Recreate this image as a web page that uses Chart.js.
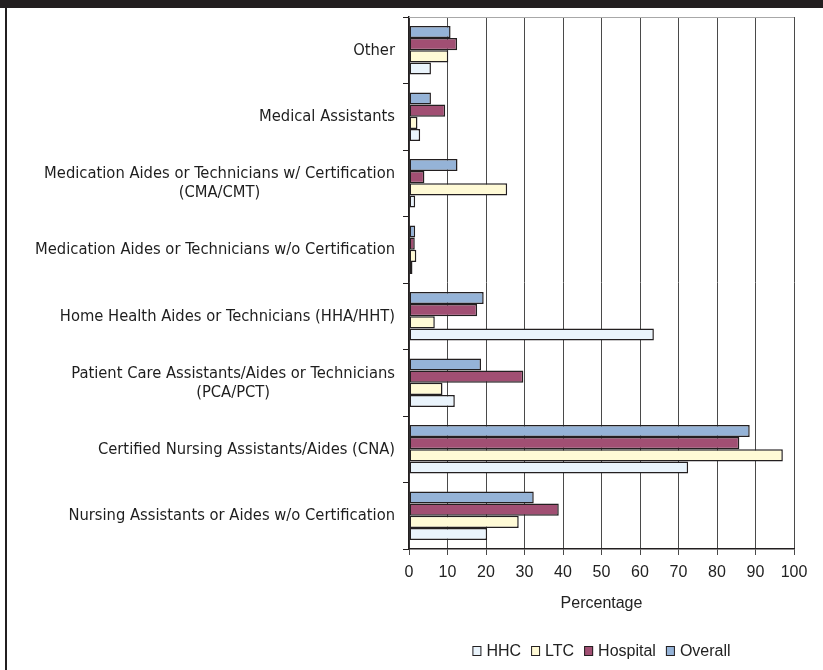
<!DOCTYPE html>
<html>
<head>
<meta charset="utf-8">
<title>Assistive personnel by setting</title>
<script src="https://cdn.jsdelivr.net/npm/chart.js@4.4.0/dist/chart.umd.min.js"></script>
<style>
  html, body { margin: 0; padding: 0; background: #fff; }
</style>
</head>
<body>
<canvas id="chart-staff" width="823" height="670"></canvas>
<script>
// categories, top to bottom
const categories = [
  'Other',
  'Medical Assistants',
  ['Medication Aides or Technicians w/ Certification', '(CMA/CMT)'],
  'Medication Aides or Technicians w/o Certification',
  'Home Health Aides or Technicians (HHA/HHT)',
  ['Patient Care Assistants/Aides or Technicians', '(PCA/PCT)'],
  'Certified Nursing Assistants/Aides (CNA)',
  'Nursing Assistants or Aides w/o Certification'
];

// percentages per setting
const overall  = [10.8, 5.7, 12.6, 1.6, 19.4, 18.7, 88.5, 32.4];
const hospital = [12.5, 9.4, 4.0, 1.5, 17.7, 29.7, 85.8, 38.9];
const ltc      = [10.2, 2.2, 25.5, 1.9, 6.7, 8.7, 97.1, 28.5];
const hhc      = [5.7, 2.9, 1.6, 0.9, 63.6, 11.9, 72.5, 20.3];

const xMin = 0, xMax = 100, xStep = 10;

const INK = '#231f20';
const LABEL_FONT = '16.4px "Liberation Sans Narrow", "DejaVu Sans Condensed", "Arial Narrow", sans-serif';
const BODY_FONT = '"Liberation Sans", Arial, sans-serif';

// black band on top + left rule
const framePlugin = {
  id: 'frame',
  beforeDraw(chart) {
    const { ctx, width, height } = chart;
    ctx.save();
    ctx.fillStyle = '#fff';
    ctx.fillRect(0, 0, width, height);
    ctx.fillStyle = INK;
    ctx.fillRect(0, 0, width, 8);
    ctx.fillRect(5, 8, 2, height - 8);
    ctx.restore();
  },
  beforeDatasetsDraw(chart) {
    // light top edge of the plot
    const { ctx, chartArea } = chart;
    ctx.save();
    ctx.strokeStyle = '#a8a8a8';
    ctx.lineWidth = 1;
    ctx.beginPath();
    ctx.moveTo(chartArea.left, chartArea.top + 0.5);
    ctx.lineTo(chartArea.right, chartArea.top + 0.5);
    ctx.stroke();
    ctx.restore();
  }
};

// category labels: right-aligned blocks, lines centred inside each block
const categoryLabels = {
  id: 'categoryLabels',
  afterDraw(chart) {
    const { ctx } = chart;
    const yScale = chart.scales.y;
    const right = yScale.right - 14;
    const lineH = 19;
    ctx.save();
    ctx.font = LABEL_FONT;
    ctx.fillStyle = '#1e1e1e';
    ctx.textAlign = 'center';
    ctx.textBaseline = 'middle';
    categories.forEach((cat, i) => {
      const lines = Array.isArray(cat) ? cat : [cat];
      const w = Math.max(...lines.map(l => ctx.measureText(l).width));
      const cx = right - w / 2;
      const cy = yScale.getPixelForTick(i);
      lines.forEach((l, j) => {
        ctx.fillText(l, cx, cy + (j - (lines.length - 1) / 2) * lineH);
      });
    });
    ctx.restore();
  }
};

// legend under the axis title, centred on the plot
const bottomLegend = {
  id: 'bottomLegend',
  afterDraw(chart) {
    const { ctx, chartArea } = chart;
    const items = chart.data.datasets.slice().reverse();
    const box = 9, gap = 5, spacing = 10, y = 651;
    ctx.save();
    ctx.font = '16px ' + BODY_FONT;
    const widths = items.map(d => box + gap + ctx.measureText(d.label).width);
    const total = widths.reduce((a, b) => a + b, 0) + spacing * (items.length - 1);
    let x = (chartArea.left + chartArea.right) / 2 - total / 2;
    ctx.textBaseline = 'middle';
    ctx.textAlign = 'left';
    items.forEach((d, i) => {
      ctx.fillStyle = d.backgroundColor;
      ctx.fillRect(x, y - 5, box, 10);
      ctx.strokeStyle = INK;
      ctx.lineWidth = 1;
      ctx.strokeRect(x + 0.5, y - 4.5, box - 1, 9);
      ctx.fillStyle = '#222';
      ctx.fillText(d.label, x + box + gap, y + 1);
      x += widths[i] + spacing;
    });
    ctx.restore();
  }
};

const barStyle = {
  borderColor: INK,
  borderWidth: 1.5,
  borderSkipped: false,
  categoryPercentage: 0.73,
  barPercentage: 1.0
};

new Chart(document.getElementById('chart-staff'), {
  type: 'bar',
  data: {
    labels: categories,
    datasets: [
      { label: 'Overall',  data: overall,  backgroundColor: '#95b3d7', ...barStyle },
      { label: 'Hospital', data: hospital, backgroundColor: '#a14f73', ...barStyle },
      { label: 'LTC',      data: ltc,      backgroundColor: '#fffad6', ...barStyle },
      { label: 'HHC',      data: hhc,      backgroundColor: '#eaf4fc', ...barStyle }
    ]
  },
  options: {
    indexAxis: 'y',
    responsive: false,
    animation: false,
    layout: { padding: { top: 17, right: 29, bottom: 0, left: 0 } },
    plugins: {
      legend: { display: false },
      tooltip: { enabled: false }
    },
    scales: {
      x: {
        min: xMin,
        max: xMax,
        ticks: {
          stepSize: xStep,
          color: '#222',
          padding: 8,
          font: { family: BODY_FONT, size: 16 }
        },
        grid: { color: '#4a4a4a', lineWidth: 1, tickLength: 6 },
        border: { color: INK, width: 1.5 },
        title: {
          display: true,
          text: 'Percentage',
          color: '#222',
          font: { family: BODY_FONT, size: 16 },
          padding: { top: 0, bottom: 57 }
        },
        afterFit(scale) { scale.height = 121; }
      },
      y: {
        ticks: { display: false },
        grid: { drawOnChartArea: false, tickLength: 6, color: INK },
        border: { color: INK, width: 1.5 },
        afterFit(scale) { scale.width = 409; }
      }
    }
  },
  plugins: [framePlugin, categoryLabels, bottomLegend]
});
</script>
</body>
</html>
